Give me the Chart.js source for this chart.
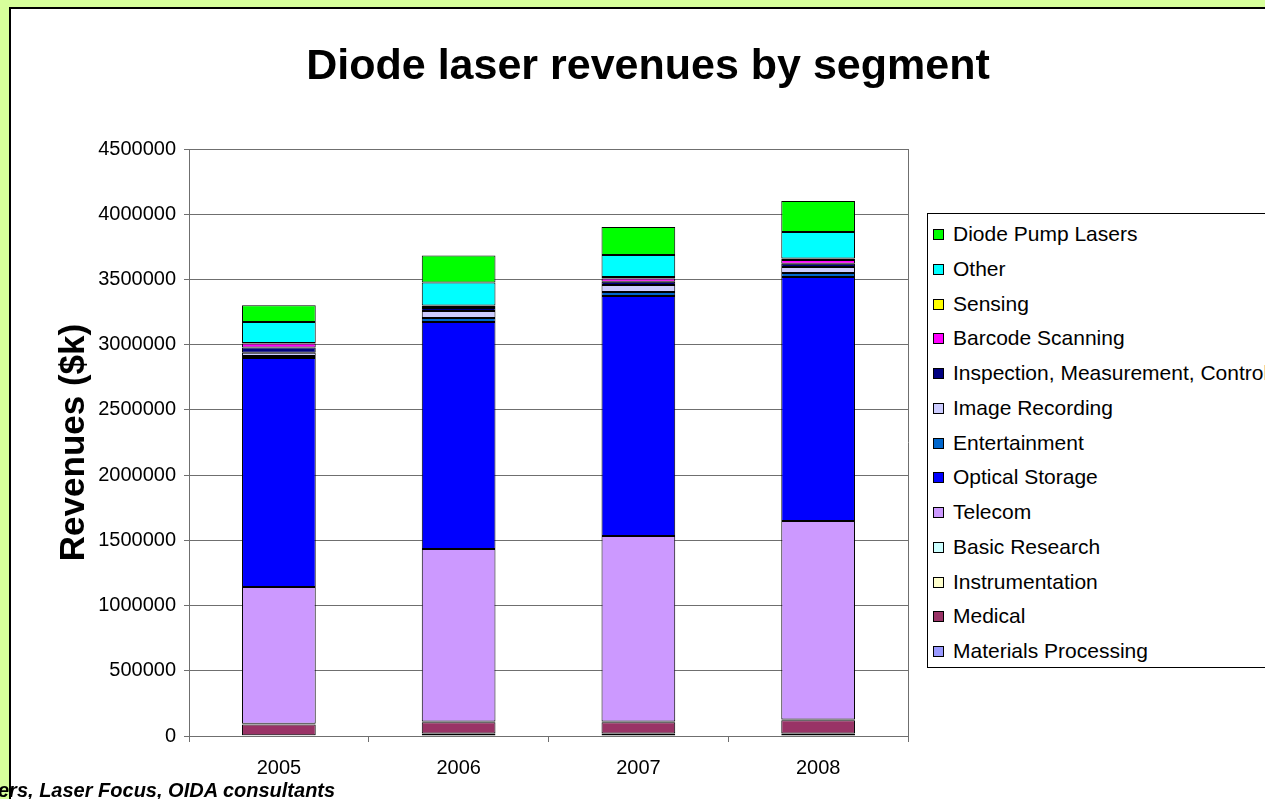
<!DOCTYPE html>
<html><head><meta charset="utf-8">
<script src="https://cdn.jsdelivr.net/npm/chart.js@4"></script>
<style>
html,body{margin:0;padding:0;width:1265px;height:799px;overflow:hidden;background:#d7ff9b;font-family:"Liberation Sans",Arial,sans-serif;}
#frame{position:absolute;left:9px;top:7px;width:1280px;height:830px;background:#fff;border:2px solid #000;box-sizing:border-box;}
#chart{position:absolute;left:11px;top:9px;}
#title{position:absolute;left:0;top:43px;width:1296px;text-align:center;font-weight:bold;font-size:43px;line-height:43px;color:#000;white-space:nowrap;}
#legend{position:absolute;left:927px;top:213px;width:400px;height:455px;border:1px solid #000;background:#fff;box-sizing:border-box;}
.item{position:absolute;left:0;height:34px;line-height:34px;font-size:21px;color:#000;white-space:nowrap;}
.sw{position:absolute;left:5px;top:12px;width:9px;height:9px;border:1px solid #000;}
.lt{position:absolute;left:25px;top:0;}
#source{position:absolute;left:-2px;top:780px;font-size:20px;line-height:20px;font-weight:bold;font-style:italic;color:#000;white-space:nowrap;}
</style>
</head><body>
<div id="frame"></div>
<canvas id="chart" width="1254" height="790"></canvas>
<div id="title">Diode laser revenues by segment</div>
<div id="legend"></div>
<div id="source">ers, Laser Focus, OIDA consultants</div>
<script>
const categories = ['2005', '2006', '2007', '2008'];
const yTicks = [0, 500000, 1000000, 1500000, 2000000, 2500000, 3000000, 3500000, 4000000, 4500000];

const materialsProcessing = [6000, 20000, 20000, 20000];
const medical = [82000, 85000, 85000, 100000];
const instrumentation = [3000, 3000, 3000, 3000];
const basicResearch = [3000, 3000, 3000, 3000];
const telecom = [1048000, 1322000, 1422000, 1522000];
const opticalStorage = [1756000, 1741000, 1840000, 1871000];
const entertainment = [15000, 30000, 30000, 30000];
const imageRecording = [25000, 54000, 55000, 46000];
const inspection = [40000, 23000, 25000, 25000];
const barcodeScanning = [30000, 15000, 25000, 30000];
const sensing = [5000, 5000, 10000, 10000];
const other = [160000, 175000, 169000, 204000];
const diodePumpLasers = [130000, 207000, 215000, 237000];

const seriesNames = ['Materials Processing', 'Medical', 'Instrumentation', 'Basic Research', 'Telecom',
  'Optical Storage', 'Entertainment', 'Image Recording', 'Inspection, Measurement, Control',
  'Barcode Scanning', 'Sensing', 'Other', 'Diode Pump Lasers'];
const seriesValues = [materialsProcessing, medical, instrumentation, basicResearch, telecom,
  opticalStorage, entertainment, imageRecording, inspection, barcodeScanning, sensing, other, diodePumpLasers];
const seriesColors = ['#9999ff', '#993366', '#ffffcc', '#ccffff', '#cc99ff', '#0000ff', '#0066cc',
  '#ccccff', '#000080', '#ff00ff', '#ffff00', '#00ffff', '#00ff00'];

const datasets = seriesNames.map((n, i) => ({
  label: n,
  data: seriesValues[i],
  backgroundColor: seriesColors[i],
  borderColor: '#000000',
  borderWidth: 1,
  borderSkipped: false,
  barPercentage: 0.41,
  categoryPercentage: 1.0
}));

// HTML legend (top to bottom = reverse stacking order)
const leg = document.getElementById('legend');
const rows = seriesNames.map((n, i) => i).reverse();
rows.forEach((idx, r) => {
  const d = document.createElement('div');
  d.className = 'item';
  d.style.top = (3 + r * 34.75) + 'px';
  d.innerHTML = '<span class="sw" style="background:' + seriesColors[idx] + '"></span><span class="lt"></span>';
  d.querySelector('.lt').textContent = seriesNames[idx];
  leg.appendChild(d);
});

const plotBorder = {
  id: 'plotBorder',
  beforeDatasetsDraw(chart) {
    const {ctx, chartArea} = chart;
    ctx.save();
    ctx.strokeStyle = '#6f6f6f';
    ctx.lineWidth = 1;
    ctx.beginPath();
    ctx.moveTo(Math.round(chartArea.right) + 0.5, chartArea.top);
    ctx.lineTo(Math.round(chartArea.right) + 0.5, chartArea.bottom);
    ctx.stroke();
    ctx.restore();
  }
};

new Chart(document.getElementById('chart'), {
  type: 'bar',
  data: { labels: categories, datasets },
  options: {
    responsive: false,
    animation: false,
    devicePixelRatio: 1,
    layout: { padding: { left: 40, right: 357, top: 140, bottom: 0 } },
    plugins: { legend: { display: false }, title: { display: false }, tooltip: { enabled: false } },
    scales: {
      x: {
        stacked: true,
        afterFit(s) { s.height = 63; },
        grid: { offset: true, drawOnChartArea: false, drawTicks: true, tickLength: 6, color: '#6f6f6f' },
        border: { color: '#6f6f6f', width: 1 },
        ticks: { padding: 14, color: '#000', font: { family: '"Liberation Sans", Arial, sans-serif', size: 20 } }
      },
      y: {
        stacked: true,
        min: 0, max: yTicks[yTicks.length - 1],
        afterFit(s) { s.width = 138; },
        afterBuildTicks(s) { s.ticks = yTicks.map(v => ({ value: v })); },
        grid: { color: '#6f6f6f', tickLength: 5 },
        border: { color: '#6f6f6f', width: 1 },
        ticks: { padding: 8, color: '#000', font: { family: '"Liberation Sans", Arial, sans-serif', size: 20 },
          callback: v => String(v) },
        title: { display: true, text: 'Revenues ($k)', color: '#000', padding: { top: 2, bottom: 0 },
          font: { family: '"Liberation Sans", Arial, sans-serif', size: 35, weight: 'bold' } }
      }
    }
  },
  plugins: [plotBorder]
});
</script>
</body></html>
